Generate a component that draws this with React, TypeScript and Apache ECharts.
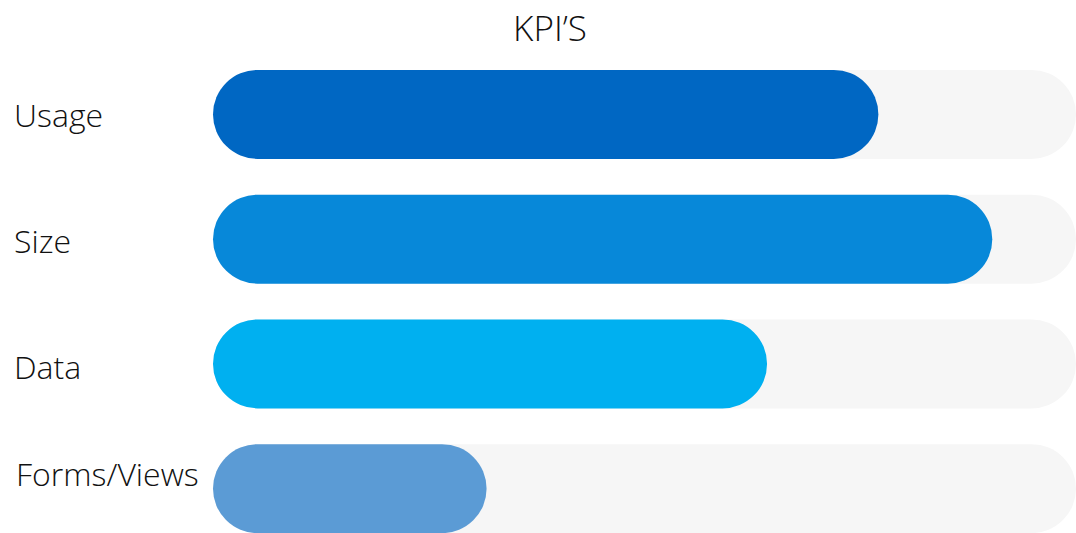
import React, { useEffect, useRef } from "react";
import * as echarts from "echarts";

const categories = ["Usage", "Size", "Data", "Forms/Views"];
const values = [77.1, 90.3, 64.2, 31.7];
const barColors = ["#0067C3", "#0788D9", "#00B0F0", "#5B9BD5"];
const trackMax = [100, 100, 100, 100];
const labelPadding = [
  [0, 0, 0, 0],
  [3, 0, 0, 0],
  [6, 0, 0, 0],
  [0, 0, 30, 2],
];

export default function App() {
  const ref = useRef<HTMLDivElement>(null);
  useEffect(() => {
    if (!ref.current) return;
    const chart = echarts.init(ref.current, null, { renderer: "svg" });
    const font = "'Open Sans', 'Noto Sans', sans-serif";
    const labelStyle = {
      fontFamily: font,
      fontSize: 32,
      fontWeight: 300,
      color: "#111",
    };
    const rich: Record<string, any> = {};
    labelPadding.forEach((p, i) => {
      rich["r" + i] = { ...labelStyle, padding: p };
    });
    chart.setOption({
      animation: false,
      backgroundColor: "#ffffff",
      title: {
        text: "KPI’S",
        left: 545,
        top: 2,
        textAlign: "center",
        textStyle: { fontFamily: font, fontSize: 35, fontWeight: 300, color: "#111", lineHeight: 40 },
      },
      grid: {
        left: 213,
        right: 0,
        top: 52,
        height: 499,
        containLabel: false,
        outerBoundsMode: "none",
      },
      xAxis: { type: "value", min: 0, max: 100, show: false },
      yAxis: {
        type: "category",
        data: categories,
        inverse: true,
        axisLine: { show: false },
        axisTick: { show: false },
        splitLine: { show: false },
        axisLabel: {
          ...labelStyle,
          align: "left",
          verticalAlign: "middle",
          margin: 199,
          formatter: (v: string, i: number) => `{r${i}|${v}}`,
          rich,
        },
      },
      series: [
        {
          type: "bar",
          data: trackMax,
          barWidth: 89,
          barGap: "-100%",
          silent: true,
          itemStyle: { color: "#F6F6F6", borderRadius: 44.5 },
        },
        {
          type: "bar",
          data: values.map((v, i) => ({ value: v, itemStyle: { color: barColors[i] } })),
          barWidth: 89,
          barGap: "-100%",
          itemStyle: { borderRadius: 44.5 },
        },
      ],
    });
    return () => chart.dispose();
  }, []);
  return (
    <div
      ref={ref}
      style={{ position: "fixed", left: 0, top: 0, width: 1076, height: 533 }}
    />
  );
}
